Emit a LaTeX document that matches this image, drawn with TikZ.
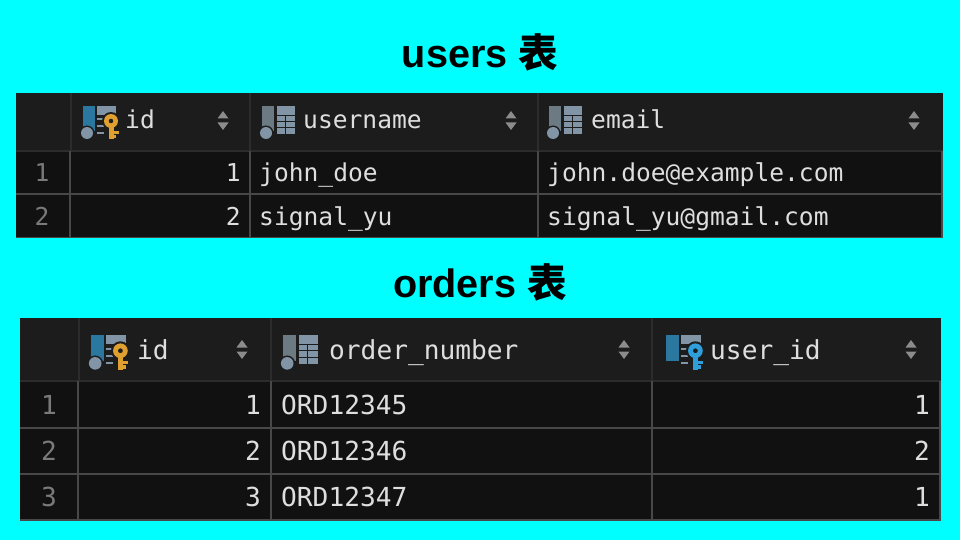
\documentclass[tikz,border=0pt]{standalone}
\usepackage{fontspec}
\setmainfont{Liberation Sans}
\setmonofont{DejaVu Sans Mono}
\newfontfamily\cjkfont{Noto Sans CJK SC}
\usetikzlibrary{positioning}
\definecolor{bgcyan}{HTML}{00FFFF}
\definecolor{headbg}{HTML}{1C1C1C}
\definecolor{rowbg}{HTML}{111111}
\definecolor{gridline}{HTML}{484848}
\definecolor{headline}{HTML}{2C2C2C}
\definecolor{celltext}{HTML}{DEDEDE}
\definecolor{rownum}{HTML}{7A7A7A}
\definecolor{sortcol}{HTML}{8C8C8C}
\definecolor{barblue}{HTML}{2A78A0}
\definecolor{bargray}{HTML}{6C7A84}
\definecolor{iconpale}{HTML}{8295A6}
\definecolor{keyorange}{HTML}{E0A030}
\definecolor{keyblue}{HTML}{2F9FDC}
\tikzset{
    title/.style = {font=\bfseries\fontsize{39.6}{44}\selectfont, text=black, inner sep=0pt},
    cell/.style = {font=\ttfamily\fontsize{24.6}{28}\selectfont, text=celltext, inner sep=0pt, anchor=base west},
    cellnum/.style = {cell, anchor=base east},
    rowno/.style = {cell, text=rownum, anchor=base},
    bigcell/.style = {cell, font=\ttfamily\fontsize{26.2}{30}\selectfont},
    bignum/.style = {bigcell, anchor=base east},
    bigrowno/.style = {bigcell, text=rownum, anchor=base},
    grid/.style = {draw=gridline, line width=1.3pt},
    headgrid/.style = {draw=headline, line width=1.2pt},
    sorter/.pic = {
        \fill[sortcol] (-5.5,-2.5) -- (5.5,-2.5) -- (0,-10) -- cycle;
        \fill[sortcol] (-5.5,1.5) -- (5.5,1.5) -- (0,9) -- cycle;
    },
    barsym/.pic = {
        \fill[#1] (0,0) rectangle (12,25);
    },
    dot/.pic = {
        \fill[headbg] (4,27) circle (7.5);
        \fill[iconpale] (4,27) circle (6);
    },
    gridsym/.pic = {
        \fill[iconpale] (15,0) rectangle (33,28);
        \draw[headbg, line width=0.8pt] (15,9) -- (33,9) (15,15) -- (33,15) (15,21) -- (33,21) (23,9) -- (23,28);
    },
    keysym/.pic = {
        \fill[iconpale] (14,0) rectangle (33,9);
        \fill[iconpale] (14,12) rectangle (21,14);
        \fill[iconpale] (14,19) rectangle (21,21);
        \fill[iconpale] (14,26) rectangle (21,28);
        \fill[headbg] (28,15) circle (9);
        \fill[#1] (25.5,20) rectangle (30.5,33);
        \fill[#1] (30,25) rectangle (35.5,28);
        \fill[#1] (30,29) rectangle (33,32);
        \fill[#1, even odd rule] (28,15) circle (7) (28,15) circle (2.4);
    },
}
\begin{document}
\begin{tikzpicture}[x=1pt, y=-1pt]
    \fill[bgcyan] (0,0) rectangle (960,540);
    \useasboundingbox (0,0) rectangle (960,540);

    % users
    \node[title] (usersTitle) at (480,52) {users {\cjkfont\bfseries 表}};
    \fill[headbg] (16,93) rectangle (943,151);
    \fill[rowbg] (16,151) rectangle (943,238);
    \draw[headgrid] (71,93) -- (71,151) (250,93) -- (250,151) (538,93) -- (538,151) (16,151) -- (943,151);
    \draw[grid] (16,194) -- (943,194) (16,237.5) -- (943,237.5)
        (250,151) -- (250,238) (538,151) -- (538,238) (942,151) -- (942,238);
    \draw[grid, line width=2.6pt] (70,151) -- (70,238);

    \pic at (83,106) {barsym=barblue};
    \pic at (83,106) {keysym=keyorange};
    \pic at (83,106) {dot};
    \pic at (262,106) {barsym=bargray};
    \pic at (262,106) {gridsym};
    \pic at (262,106) {dot};
    \pic at (549,106) {barsym=bargray};
    \pic at (549,106) {gridsym};
    \pic at (549,106) {dot};
    \node[cell] (usersId) at (125,129) {id};
    \node[cell] (usersName) at (303,129) {username};
    \node[cell] (usersMail) at (591,129) {email};
    \pic at (223,121) {sorter};
    \pic at (511,121) {sorter};
    \pic at (914,121) {sorter};

    \node[rowno] (usersRowA) at (42,182) {1};
    \node[cellnum] (usersIdA) at (241,182) {1};
    \node[cell] (usersNameA) at (259,182) {john\_doe};
    \node[cell] (usersMailA) at (547,182) {john.doe@example.com};
    \node[rowno] (usersRowB) at (42,225) {2};
    \node[cellnum] (usersIdB) at (241,225) {2};
    \node[cell] (usersNameB) at (259,225) {signal\_yu};
    \node[cell] (usersMailB) at (547,225) {signal\_yu@gmail.com};

    % orders
    \node[title] (ordersTitle) at (480,282) {orders {\cjkfont\bfseries 表}};
    \fill[headbg] (20,318) rectangle (941,381);
    \fill[rowbg] (20,381) rectangle (941,521);
    \draw[headgrid] (79,318) -- (79,381) (271,318) -- (271,381) (652,318) -- (652,381) (20,381) -- (941,381);
    \draw[grid] (20,428) -- (941,428) (20,474) -- (941,474) (20,520) -- (941,520)
        (271,381) -- (271,521) (652,381) -- (652,521) (940,381) -- (940,521);
    \draw[grid, line width=2.6pt] (78,381) -- (78,521);

    \pic[scale=1.05] at (91,335) {barsym=barblue};
    \pic[scale=1.05] at (91,335) {keysym=keyorange};
    \pic[scale=1.05] at (91,335) {dot};
    \pic[scale=1.05] at (283,335) {barsym=bargray};
    \pic[scale=1.05] at (283,335) {gridsym};
    \pic[scale=1.05] at (283,335) {dot};
    \pic[scale=1.05] at (666,335) {barsym=barblue};
    \pic[scale=1.05] at (666,335) {keysym=keyblue};
    \node[bigcell] (ordersId) at (137,359) {id};
    \node[bigcell] (ordersNum) at (329,359) {order\_number};
    \node[bigcell] (ordersUser) at (710,359) {user\_id};
    \pic at (242,350) {sorter};
    \pic at (624,350) {sorter};
    \pic at (911,350) {sorter};

    \node[bigrowno] (ordersRowA) at (49,414) {1};
    \node[bignum] (ordersIdA) at (261,414) {1};
    \node[bigcell] (ordersNumA) at (281,414) {ORD12345};
    \node[bignum] (ordersUserA) at (930,414) {1};
    \node[bigrowno] (ordersRowB) at (49,460) {2};
    \node[bignum] (ordersIdB) at (261,460) {2};
    \node[bigcell] (ordersNumB) at (281,460) {ORD12346};
    \node[bignum] (ordersUserB) at (930,460) {2};
    \node[bigrowno] (ordersRowC) at (49,506) {3};
    \node[bignum] (ordersIdC) at (261,506) {3};
    \node[bigcell] (ordersNumC) at (281,506) {ORD12347};
    \node[bignum] (ordersUserC) at (930,506) {1};
\end{tikzpicture}
\end{document}
